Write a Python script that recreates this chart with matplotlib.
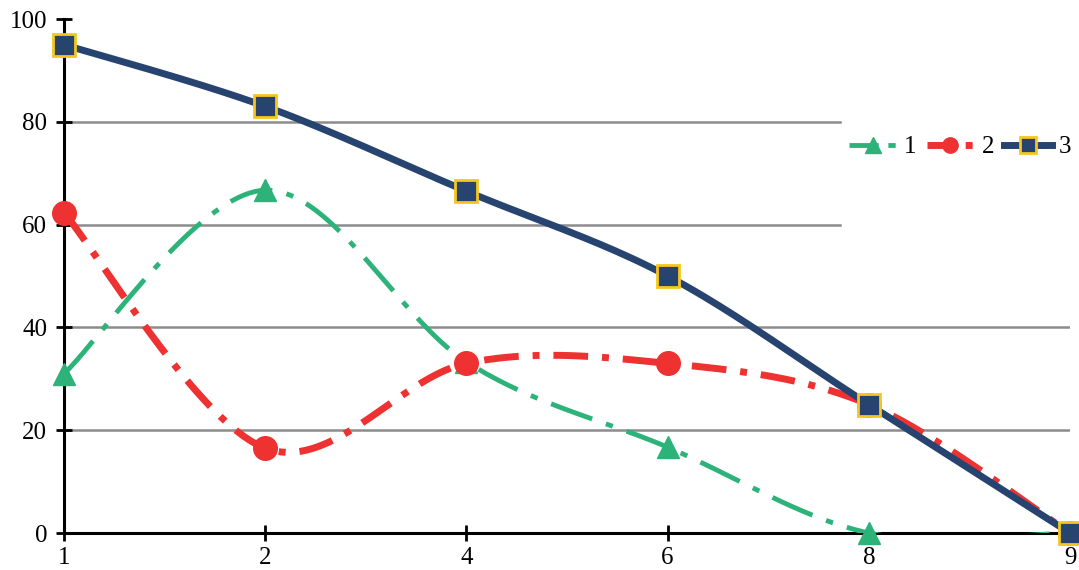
import numpy as np
import matplotlib
matplotlib.use("Agg")
import matplotlib.pyplot as plt

categories = ["1", "2", "4", "6", "8", "9"]
s1 = [31, 66.7, 33.3, 16.7, 0, 0]
s2 = [62.3, 16.5, 33.0, 33.0, 25, 0]
s3 = [95, 83, 66.5, 50, 25, 0]
series_names = ["1", "2", "3"]
yticks = [0, 20, 40, 60, 80, 100]

plt.rcParams['font.family'] = ['Liberation Serif', 'DejaVu Serif']

def smooth(xs, ys, n=40):
    P = np.column_stack([xs, ys]).astype(float)
    Pp = np.vstack([P[0], P, P[-1]])
    out = []
    for i in range(len(P) - 1):
        p0, p1, p2, p3 = Pp[i], Pp[i + 1], Pp[i + 2], Pp[i + 3]
        c1 = p1 + (p2 - p0) / 6.0
        c2 = p2 - (p3 - p1) / 6.0
        t = np.linspace(0, 1, n)[:, None]
        seg = ((1 - t) ** 3) * p1 + 3 * ((1 - t) ** 2) * t * c1 + 3 * (1 - t) * t ** 2 * c2 + t ** 3 * p2
        out.append(seg if i == 0 else seg[1:])
    out = np.vstack(out)
    return out[:, 0], out[:, 1]

W, H = 1079, 570
fig = plt.figure(figsize=(W / 100, H / 100), dpi=100)
ax = fig.add_axes([64 / W, (H - 533) / H, (1070 - 64) / W, (533 - 19) / H])

x = np.arange(len(categories))

green = "#2db37a"
red = "#ee3131"
navy = "#26446f"
gold = "#f7c61c"

# grid
xmax_short = (840 - 64) / (1070 - 64)
for v in [20, 40]:
    ax.axhline(v, color="#8c8c8c", lw=1.8, zorder=1)
for v in [60, 80]:
    ax.axhline(v, xmax=xmax_short, color="#8c8c8c", lw=1.8, zorder=1)

# series 1
sx, sy = smooth(x, s1)
ax.plot(sx, sy, color=green, lw=3.5, dashes=(9, 3, 1.5, 3), zorder=3, clip_on=True)
ax.plot(x, s1, ls="none", marker="^", ms=16, color=green, zorder=4, clip_on=False)
# series 2
sx, sy = smooth(x, s2)
ax.plot(sx, sy, color=red, lw=5, dashes=(5, 2, 1, 2), zorder=5, clip_on=False)
ax.plot(x, s2, ls="none", marker="o", ms=17, color=red, zorder=6, clip_on=False)
# series 3
sx, sy = smooth(x, s3)
ax.plot(sx, sy, color=navy, lw=5, zorder=7, clip_on=False, solid_capstyle="butt")
ax.plot(x, s3, ls="none", marker="s", ms=16, mfc=navy, mec=gold, mew=2, zorder=8, clip_on=False)

# legend handles
h1, = ax.plot([], [], color=green, lw=3.5, dashes=(6, 2, 1.5, 2), marker="^", ms=11)
h2, = ax.plot([], [], color=red, lw=5, dashes=(4, 1.5, 1, 1.5), marker="o", ms=11)
h3, = ax.plot([], [], color=navy, lw=5, marker="s", ms=11, mfc=navy, mec=gold, mew=2)
leg = ax.legend([h1, h2, h3], series_names, ncol=3, frameon=False, fontsize=18,
                loc="center left", bbox_to_anchor=((849 - 64) / (1070 - 64), (533 - 147) / (533 - 19)),
                handlelength=1.9, handletextpad=0.3, columnspacing=0.4, borderaxespad=0,
                borderpad=0)

ax.set_xlim(0, 5)
ax.set_ylim(0, 100)
ax.set_xticks(x)
ax.set_xticklabels(categories)
ax.set_yticks(yticks)
for s in ["top", "right"]:
    ax.spines[s].set_visible(False)
for s in ["left", "bottom"]:
    ax.spines[s].set_linewidth(2.2)
    ax.spines[s].set_zorder(2)
ax.tick_params(direction="inout", length=12, width=2, labelsize=18, pad=4)
ax.tick_params(axis="y", pad=6)

fig.savefig("out.png", dpi=100)
